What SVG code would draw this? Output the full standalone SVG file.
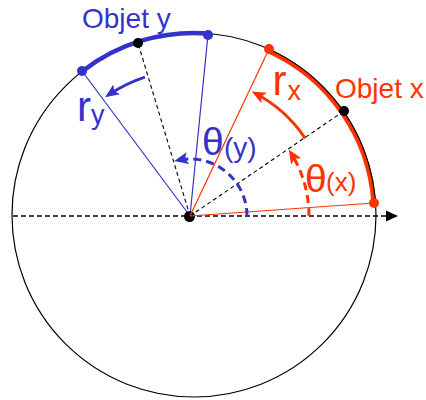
<svg xmlns="http://www.w3.org/2000/svg" width="426" height="400" viewBox="0 0 426 400">
<style>
.lbl{font-family:"Liberation Sans",Arial,sans-serif}
.red{fill:#ff3300}
.blue{fill:#3333cc}
.ln-red{stroke:#ff3300;stroke-width:1.2;fill:none}
.ln-blue{stroke:#3333cc;stroke-width:1.2;fill:none}
.ln-dash{stroke:#000;stroke-width:1.1;stroke-dasharray:4 3;fill:none}
.arr-red{stroke:#ff3300;stroke-width:3;fill:none}
.arr-blue{stroke:#3333cc;stroke-width:3;fill:none}
.dashed{stroke-dasharray:8 5}
</style>
<defs>
<marker id="ahRed" markerUnits="userSpaceOnUse" markerWidth="16" markerHeight="14" refX="10" refY="6" orient="auto">
<path d="M0,0 L14,6 L0,12 L3,6 z" fill="#ff3300"/>
</marker>
<marker id="ahBlue" markerUnits="userSpaceOnUse" markerWidth="16" markerHeight="14" refX="10" refY="6" orient="auto">
<path d="M0,0 L14,6 L0,12 L3,6 z" fill="#3333cc"/>
</marker>
</defs>

<g id="cercle">
<path d="M373.6,203 A180,180 0 0 0 268.1,51" stroke="#ff3300" stroke-width="4.5" fill="none"/>
<circle cx="194" cy="215" r="182" fill="none" stroke="#000" stroke-width="1.2"/>
<path d="M82.1,71.4 A182,182 0 0 1 208,33.5" stroke="#3333cc" stroke-width="4.5" fill="none"/>
</g>

<g id="connecteurs">
<line x1="13" y1="216" x2="387" y2="216" stroke="#000" stroke-width="1.5" stroke-dasharray="5 3"/>
<polygon points="386,210.5 398,216 386,221.5" fill="#000"/>
<line class="ln-dash" x1="190" y1="216" x2="138" y2="43"/>
<line class="ln-dash" x1="190" y1="216" x2="344" y2="111"/>
<line class="ln-blue" x1="190" y1="216" x2="82" y2="71"/>
<line class="ln-blue" x1="190" y1="216" x2="208" y2="34.5"/>
<circle cx="189.5" cy="216.5" r="5.5" fill="#000"/>
<line class="ln-red" x1="190" y1="216" x2="269" y2="49"/>
<line class="ln-red" x1="190" y1="216" x2="374" y2="203"/>
<path class="arr-blue" d="M144.9,77.1 A146,146 0 0 0 108.4,95" marker-end="url(#ahBlue)"/>
<path class="arr-red" d="M305.2,138.3 A139,139 0 0 0 255.3,93.3" marker-end="url(#ahRed)"/>
<path class="arr-blue dashed" d="M247,216 A57,57 0 0 0 178.1,160.2" marker-end="url(#ahBlue)"/>
<path class="arr-red dashed" d="M309,216 A119,119 0 0 0 290.9,152.9" marker-end="url(#ahRed)"/>
</g>

<g id="objet-y">
<circle cx="82" cy="71" r="5" fill="#3333cc"/>
<circle cx="208" cy="35" r="5" fill="#3333cc"/>
<circle cx="138" cy="43" r="5" fill="#000"/>
<text class="lbl blue" x="82" y="28" font-size="28">Objet y</text>
</g>

<g id="objet-x">
<circle cx="269" cy="49" r="5" fill="#ff3300"/>
<circle cx="374" cy="203" r="5" fill="#ff3300"/>
<circle cx="344" cy="111" r="5" fill="#000"/>
<text class="lbl red" x="335" y="98" font-size="28">Objet x</text>
</g>

<g id="labels">
<text class="lbl blue" x="77" y="121" font-size="42">r<tspan font-size="27" dy="3">y</tspan></text>
<text class="lbl red" x="272.5" y="95" font-size="42">r<tspan font-size="27" dx="1" dy="4.5">x</tspan></text>
<text class="lbl blue" x="202" y="155" font-size="39">θ</text>
<text class="lbl blue" x="224" y="156.5" font-size="28">(y)</text>
<text class="lbl red" x="305" y="192" font-size="39">θ</text>
<text class="lbl red" x="326" y="191" font-size="26">(x)</text>
</g>
</svg>
